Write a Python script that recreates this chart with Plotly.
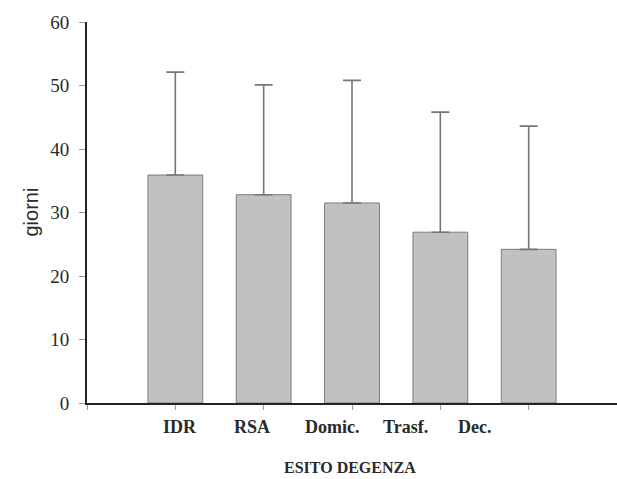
import plotly.graph_objects as go

# Mean length of stay (days) by discharge outcome, with upper SD whisker
categories = ["IDR", "RSA", "Domic.", "Trasf.", "Dec."]
mean_days = [35.9, 32.8, 31.5, 26.9, 24.2]
sd_days = [16.2, 17.3, 19.3, 18.9, 19.4]
positions = [1, 2, 3, 4, 5]
label_positions = [1.05, 1.87, 2.77, 3.61, 4.39]

y_ticks = [0, 10, 20, 30, 40, 50, 60]

serif = "Liberation Serif"

fig = go.Figure()
fig.add_trace(go.Bar(
    x=positions,
    y=mean_days,
    width=0.62,
    marker=dict(color="#c1c1c3", line=dict(color="#7d7d80", width=1)),
    error_y=dict(type="data", symmetric=False, array=sd_days,
                 arrayminus=[0] * len(sd_days),
                 color="#76767a", thickness=1.6, width=9),
    showlegend=False,
))

# Category labels below the axis
for xp, name in zip(label_positions, categories):
    fig.add_annotation(x=xp, y=0, xref="x", yref="y", text=f"<b>{name}</b>",
                       showarrow=False, yanchor="top", yshift=-12,
                       font=dict(family=serif, size=18, color="#2a2a2a"))

fig.add_annotation(x=0.5, y=0, xref="paper", yref="paper",
                   text="<b>ESITO DEGENZA</b>", showarrow=False,
                   yanchor="middle", yshift=-64, xshift=-2,
                   font=dict(family=serif, size=16, color="#2a2a2a"))

fig.add_annotation(x=0, y=0.5, xref="paper", yref="paper", text="giorni",
                   showarrow=False, textangle=-90, xanchor="center",
                   xshift=-57,
                   font=dict(family="Liberation Sans", size=20, color="#2a2a2a"))

fig.update_layout(
    width=617, height=479,
    margin=dict(l=87, r=0, t=22, b=76),
    paper_bgcolor="white", plot_bgcolor="white",
    bargap=0.3,
)
fig.update_xaxes(
    range=[0, 6], tickvals=[0, 1, 2, 3, 4, 5], ticktext=[""] * 6,
    ticks="outside", ticklen=5, tickcolor="#9a9a9a", tickwidth=1,
    showline=True, linecolor="#222222", linewidth=2,
    showgrid=False, zeroline=False, fixedrange=True,
)
fig.update_yaxes(
    range=[0, 60], tickvals=y_ticks,
    ticks="outside", ticklen=6, tickcolor="#9a9a9a", tickwidth=1,
    ticklabelstandoff=6,
    showline=True, linecolor="#222222", linewidth=2,
    showgrid=False, zeroline=False,
    tickfont=dict(family=serif, size=19, color="#2a2a2a"),
)

fig.write_html("out.html")
